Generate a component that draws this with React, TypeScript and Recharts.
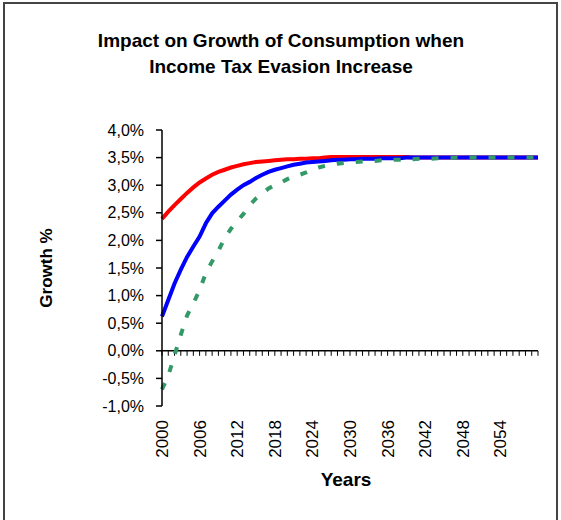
import { LineChart, Line, XAxis, YAxis, ReferenceLine } from 'recharts';

const years = [
  2000, 2001, 2002, 2003, 2004, 2005, 2006, 2007, 2008, 2009,
  2010, 2011, 2012, 2013, 2014, 2015, 2016, 2017, 2018, 2019,
  2020, 2021, 2022, 2023, 2024, 2025, 2026, 2027, 2028, 2029,
  2030, 2031, 2032, 2033, 2034, 2035, 2036, 2037, 2038, 2039,
  2040, 2041, 2042, 2043, 2044, 2045, 2046, 2047, 2048, 2049,
  2050, 2051, 2052, 2053, 2054, 2055, 2056, 2057, 2058, 2059,
  2060,
];

// red series
const redGrowth = [
  2.39, 2.52, 2.64, 2.75, 2.86, 2.96, 3.05, 3.12, 3.19, 3.24,
  3.28, 3.32, 3.35, 3.38, 3.40, 3.42, 3.43, 3.44, 3.45, 3.46,
  3.47, 3.47, 3.48, 3.48, 3.49, 3.49, 3.50, 3.51, 3.51, 3.51,
  3.51, 3.51, 3.51, 3.51, 3.51, 3.51, 3.51, 3.51, 3.51, 3.51,
  3.50, 3.50, 3.50, 3.50, 3.50, 3.50, 3.50, 3.50, 3.50, 3.50,
  3.50, 3.50, 3.50, 3.50, 3.50, 3.50, 3.50, 3.50, 3.50, 3.50,
  3.50,
];

// blue series
const blueGrowth = [
  0.62, 0.92, 1.22, 1.47, 1.70, 1.89, 2.07, 2.31, 2.49, 2.61,
  2.72, 2.83, 2.92, 3.00, 3.06, 3.13, 3.19, 3.24, 3.28, 3.31,
  3.34, 3.37, 3.39, 3.41, 3.42, 3.43, 3.44, 3.45, 3.46, 3.46,
  3.47, 3.47, 3.48, 3.48, 3.48, 3.49, 3.49, 3.49, 3.49, 3.50,
  3.50, 3.50, 3.50, 3.50, 3.50, 3.50, 3.50, 3.50, 3.50, 3.50,
  3.50, 3.50, 3.50, 3.50, 3.50, 3.50, 3.50, 3.50, 3.50, 3.50,
  3.50,
];

// green dashed series
const greenGrowth = [
  -0.70, -0.45, -0.08, 0.29, 0.64, 0.86, 1.10, 1.41, 1.62, 1.81,
  2.04, 2.21, 2.35, 2.48, 2.64, 2.76, 2.85, 2.94, 3.00, 3.05,
  3.11, 3.16, 3.19, 3.23, 3.28, 3.32, 3.35, 3.37, 3.39, 3.40,
  3.41, 3.42, 3.43, 3.43, 3.44, 3.45, 3.45, 3.46, 3.46, 3.47,
  3.47, 3.48, 3.48, 3.48, 3.49, 3.49, 3.49, 3.50, 3.50, 3.50,
  3.50, 3.50, 3.50, 3.50, 3.50, 3.50, 3.50, 3.50, 3.50, 3.50,
  3.50,
];

const yTicks = [-1, -0.5, 0, 0.5, 1, 1.5, 2, 2.5, 3, 3.5, 4];
const yearLabels = [2000, 2006, 2012, 2018, 2024, 2030, 2036, 2042, 2048, 2054];

const data = years.map((year, i) => ({
  year,
  red: redGrowth[i],
  blue: blueGrowth[i],
  green: greenGrowth[i],
}));

const font = '"Liberation Sans", Arial, sans-serif';

const pct = (v: number) => v.toFixed(1).replace('.', ',') + '%';

function YearTick(props: any) {
  const { x, y, payload } = props;
  if (!yearLabels.includes(payload.value)) return null;
  return (
    <text
      x={x}
      y={y}
      dy="0.35em"
      textAnchor="end"
      transform={`rotate(-90 ${x} ${y})`}
      fontSize={17}
      fontFamily={font}
      fill="#000"
    >
      {payload.value}
    </text>
  );
}

// x axis drawn along the zero line, with a tick mark per year hanging below
function ZeroAxis(props: any) {
  const { x1, y1, x2 } = props;
  const n = years.length - 1;
  return (
    <g>
      <line x1={x1} y1={y1} x2={x2} y2={y1} stroke="#000" strokeWidth={1.5} />
      {years.map((yr, i) => {
        const tx = x1 + ((x2 - x1) * i) / n;
        return <line key={yr} x1={tx} y1={y1} x2={tx} y2={y1 + 5} stroke="#000" strokeWidth={1} />;
      })}
    </g>
  );
}

export default function App() {
  return (
    <div style={{ position: 'fixed', left: 0, top: 0, width: 561, height: 520, background: '#fff', overflow: 'hidden' }}>
      <div
        style={{
          position: 'absolute',
          left: 3,
          top: 2,
          width: 551,
          height: 560,
          border: '2px solid #444',
        }}
      />
      <div
        style={{
          position: 'absolute',
          left: 0,
          width: 562,
          top: 28,
          textAlign: 'center',
          fontFamily: font,
          fontWeight: 'bold',
          fontSize: 19,
          lineHeight: '26px',
          color: '#000',
        }}
      >
        <div>Impact on Growth of Consumption when</div>
        <div>Income Tax Evasion Increase</div>
      </div>
      <div
        style={{
          position: 'absolute',
          left: 47,
          top: 268,
          transform: 'translate(-50%, -50%) rotate(-90deg)',
          fontFamily: font,
          fontWeight: 'bold',
          fontSize: 17,
          whiteSpace: 'nowrap',
        }}
      >
        Growth %
      </div>
      <div
        style={{
          position: 'absolute',
          left: 346,
          top: 480,
          transform: 'translate(-50%, -50%)',
          fontFamily: font,
          fontWeight: 'bold',
          fontSize: 19,
        }}
      >
        Years
      </div>
      <div style={{ position: 'absolute', left: 0, top: 0 }}>
        <LineChart width={561} height={520} data={data} margin={{ top: 130, right: 23, bottom: 54, left: 102 }}>
          <XAxis
            dataKey="year"
            height={60}
            interval={0}
            axisLine={false}
            tickLine={false}
            tickSize={0}
            tickMargin={14}
            tick={<YearTick />}
          />
          <YAxis
            width={60}
            domain={[-1, 4]}
            ticks={yTicks}
            tickFormatter={pct}
            axisLine={{ stroke: '#000', strokeWidth: 1.5 }}
            tickLine={{ stroke: '#000', strokeWidth: 1.5 }}
            tickSize={6}
            tickMargin={12}
            tick={{ fill: '#000', fontSize: 16, fontFamily: font }}
          />
          <ReferenceLine y={0} shape={<ZeroAxis />} />
          <Line
            type="linear"
            dataKey="red"
            stroke="#ff0000"
            strokeWidth={4}
            dot={false}
            isAnimationActive={false}
          />
          <Line
            type="linear"
            dataKey="blue"
            stroke="#0000ff"
            strokeWidth={4}
            dot={false}
            isAnimationActive={false}
          />
          <Line
            type="linear"
            dataKey="green"
            stroke="#339966"
            strokeWidth={4}
            strokeDasharray="7 12"
            dot={false}
            isAnimationActive={false}
          />
        </LineChart>
      </div>
    </div>
  );
}
